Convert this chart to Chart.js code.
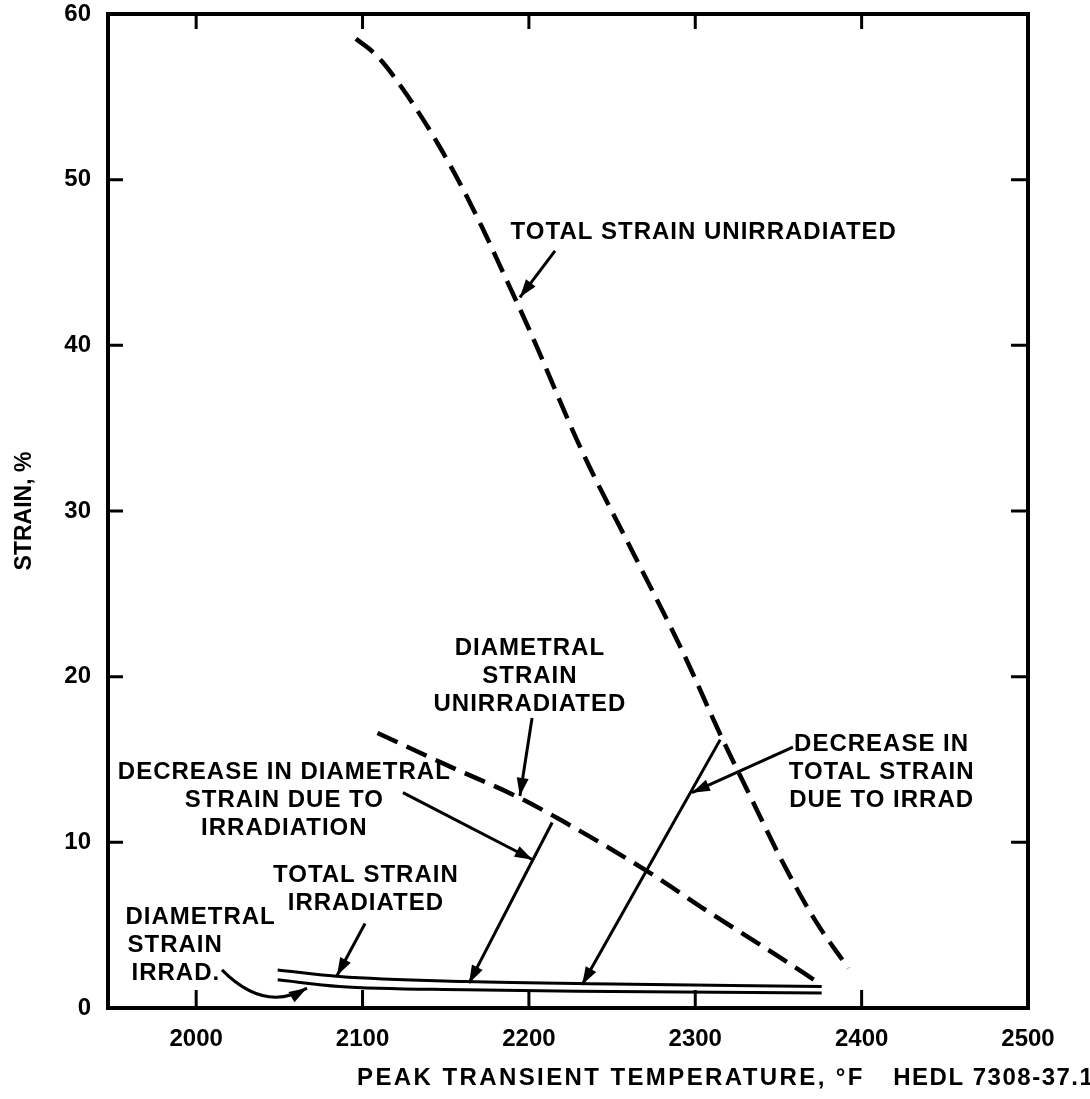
<!DOCTYPE html>
<html>
<head>
<meta charset="utf-8">
<title>Strain vs peak transient temperature</title>
<script src="https://cdn.jsdelivr.net/npm/chart.js@4.4.1/dist/chart.umd.min.js"></script>
<style>
  html, body { margin: 0; padding: 0; background: #fff; }
  #wrap { width: 1090px; height: 1099px; }
</style>
</head>
<body>
<div id="wrap"><canvas id="strainChart" width="1090" height="1099"></canvas></div>
<script>
// Axis ticks
const xTicks = [2000, 2100, 2200, 2300, 2400, 2500];
const yTicks = [0, 10, 20, 30, 40, 50, 60];

// Total strain, unirradiated (dashed)
const totUnirrTemp   = [2096, 2104, 2112, 2124, 2136, 2148, 2160, 2172, 2184, 2200, 2232, 2262, 2292, 2316, 2332, 2352, 2372, 2392];
const totUnirrStrain = [58.5, 57.9, 57.1, 55.5, 53.7, 51.7, 49.5, 47.1, 44.5, 41.0, 33.6, 27.6, 21.6, 16.3, 13.0, 8.9, 5.3, 2.4];

// Diametral strain, unirradiated (dashed)
const diaUnirrTemp   = [2109, 2152, 2192, 2220, 2272, 2308, 2344, 2376];
const diaUnirrStrain = [16.6, 14.6, 12.8, 11.3, 8.2, 5.8, 3.5, 1.4];

// Total strain, irradiated (solid)
const totIrrTemp   = [2049, 2086, 2162, 2250, 2376];
const totIrrStrain = [2.3, 1.9, 1.6, 1.45, 1.3];

// Diametral strain, irradiated (solid)
const diaIrrTemp   = [2049, 2086, 2162, 2250, 2376];
const diaIrrStrain = [1.7, 1.3, 1.1, 1.0, 0.9];

// Decrease lines (from unirradiated curve down to irradiated curve)
const decDiaTemp   = [2214, 2164];
const decDiaStrain = [11.2, 1.5];
const decTotTemp   = [2315, 2232];
const decTotStrain = [16.2, 1.4];

// Labels with their pointer arrows, in data units
const notes = [
  { lines: ["TOTAL STRAIN UNIRRADIATED"], at: [2189, 46.8], align: "left",
    arrow: [[2215.7, 45.7], [2194.6, 42.9]] },
  { lines: ["DIAMETRAL", "STRAIN", "UNIRRADIATED"], at: [2200.6, 21.7], align: "center",
    arrow: [[2201.9, 17.5], [2194.6, 12.8]] },
  { lines: ["DECREASE IN DIAMETRAL", "STRAIN DUE TO", "IRRADIATION"], at: [2053, 14.2], align: "center",
    arrow: [[2124.3, 13.0], [2202.3, 8.95]] },
  { lines: ["TOTAL STRAIN", "IRRADIATED"], at: [2102, 8.0], align: "center",
    arrow: [[2101.5, 5.1], [2084.6, 1.95]] },
  { lines: ["DIAMETRAL", "STRAIN", "IRRAD."], at: [1957.5, 5.5], align: "left", indents: [0, 2, 6],
    curve: [[2015.5, 2.3], [2041, -0.3], [2066.6, 1.2]] },
  { lines: ["DECREASE IN", "TOTAL STRAIN", "DUE TO IRRAD"], at: [2412, 15.9], align: "center",
    arrow: [[2358.7, 15.75], [2298, 13.0]] }
];

const FONT = "'Liberation Sans', Arial, sans-serif";
const pts = (xs, ys) => xs.map((x, i) => ({ x, y: ys[i] }));

function arrowHead(ctx, fx, fy, tx, ty){
  const ang = Math.atan2(ty - fy, tx - fx);
  const len = 18, half = 6;
  ctx.beginPath();
  ctx.moveTo(tx, ty);
  ctx.lineTo(tx - len*Math.cos(ang) + half*Math.sin(ang), ty - len*Math.sin(ang) - half*Math.cos(ang));
  ctx.lineTo(tx - len*Math.cos(ang) - half*Math.sin(ang), ty - len*Math.sin(ang) + half*Math.cos(ang));
  ctx.closePath();
  ctx.fill();
}

const frameAndNotes = {
  id: "frameAndNotes",
  afterDraw(chart){
    const { ctx, chartArea: a, scales: { x, y } } = chart;
    const px = v => x.getPixelForValue(v);
    const py = v => y.getPixelForValue(v);
    ctx.save();
    ctx.strokeStyle = "#000";
    ctx.fillStyle = "#000";
    ctx.lineCap = "butt";

    // frame
    ctx.lineWidth = 4;
    ctx.strokeRect(a.left, a.top, a.right - a.left, a.bottom - a.top);

    // inward ticks
    ctx.lineWidth = 3;
    ctx.beginPath();
    yTicks.slice(1, -1).forEach(v => {
      ctx.moveTo(a.left, py(v)); ctx.lineTo(a.left + 15, py(v));
      ctx.moveTo(a.right, py(v)); ctx.lineTo(a.right - 17, py(v));
    });
    xTicks.slice(0, -1).forEach(v => {
      ctx.moveTo(px(v), a.bottom); ctx.lineTo(px(v), a.bottom - 18);
      ctx.moveTo(px(v), a.top); ctx.lineTo(px(v), a.top + 15);
    });
    ctx.stroke();

    // arrowheads at the lower end of the two "decrease" lines
    [4, 5].forEach(i => {
      const d = chart.getDatasetMeta(i).data;
      arrowHead(ctx, d[0].x, d[0].y, d[1].x, d[1].y);
    });

    // annotation labels
    ctx.font = `bold 24px ${FONT}`;
    ctx.letterSpacing = "1px";
    ctx.textBaseline = "middle";
    notes.forEach(n => {
      ctx.textAlign = n.align;
      n.lines.forEach((t, k) => {
        const ind = n.indents ? n.indents[k] : 0;
        ctx.fillText(t, px(n.at[0]) + ind, py(n.at[1]) + k*28);
      });
      ctx.lineWidth = 3;
      if (n.arrow){
        const [f, t] = n.arrow;
        ctx.beginPath();
        ctx.moveTo(px(f[0]), py(f[1]));
        ctx.lineTo(px(t[0]), py(t[1]));
        ctx.stroke();
        arrowHead(ctx, px(f[0]), py(f[1]), px(t[0]), py(t[1]));
      }
      if (n.curve){
        const [s, c, e] = n.curve;
        ctx.beginPath();
        ctx.moveTo(px(s[0]), py(s[1]));
        ctx.quadraticCurveTo(px(c[0]), py(c[1]), px(e[0]), py(e[1]));
        ctx.stroke();
        arrowHead(ctx, px(c[0]), py(c[1]), px(e[0]), py(e[1]));
      }
    });

    // x axis title and figure number
    ctx.textAlign = "left";
    ctx.letterSpacing = "2.4px";
    ctx.fillText("PEAK TRANSIENT TEMPERATURE, °F", px(2096.7), a.bottom + 70);
    ctx.letterSpacing = "1.5px";
    ctx.fillText("HEDL 7308-37.1", px(2419), a.bottom + 70);
    ctx.restore();
  }
};

const lineDs = (data, dashed, width) => ({
  data,
  showLine: true,
  fill: false,
  borderColor: "#000",
  borderWidth: width,
  borderDash: dashed ? [22, 10] : [],
  borderCapStyle: "butt",
  pointRadius: 0,
  cubicInterpolationMode: "monotone"
});

const tickFont = { family: FONT, size: 24, weight: "bold" };

new Chart(document.getElementById("strainChart").getContext("2d"), {
  type: "scatter",
  data: {
    datasets: [
      lineDs(pts(totUnirrTemp, totUnirrStrain), true, 4.5),
      lineDs(pts(diaUnirrTemp, diaUnirrStrain), true, 4.5),
      lineDs(pts(totIrrTemp, totIrrStrain), false, 3),
      lineDs(pts(diaIrrTemp, diaIrrStrain), false, 3),
      lineDs(pts(decDiaTemp, decDiaStrain), false, 3),
      lineDs(pts(decTotTemp, decTotStrain), false, 3)
    ]
  },
  options: {
    responsive: false,
    animation: false,
    devicePixelRatio: 1,
    layout: { padding: { top: 14, right: 62, left: 0, bottom: 0 } },
    plugins: { legend: { display: false }, tooltip: { enabled: false } },
    scales: {
      x: {
        type: "linear",
        min: 1947,
        max: 2500,
        afterBuildTicks: s => { s.ticks = xTicks.map(v => ({ value: v })); },
        afterFit: s => { s.height = 91; s.paddingLeft = 0; s.paddingRight = 0; },
        grid: { display: false, drawTicks: false },
        border: { display: false },
        ticks: { color: "#000", padding: 17, maxRotation: 0, font: tickFont, callback: v => String(v) }
      },
      y: {
        type: "linear",
        min: 0,
        max: 60,
        afterBuildTicks: s => { s.ticks = yTicks.map(v => ({ value: v })); },
        afterFit: s => { s.width = 108; s.paddingTop = 0; s.paddingBottom = 0; },
        grid: { display: false, drawTicks: false },
        border: { display: false },
        ticks: { color: "#000", padding: 17, font: tickFont, callback: v => String(v) },
        title: {
          display: true,
          text: "STRAIN, %",
          color: "#000",
          padding: { top: 11, bottom: 0 },
          font: { family: FONT, size: 23, weight: "bold" }
        }
      }
    }
  },
  plugins: [frameAndNotes]
});
</script>
</body>
</html>
